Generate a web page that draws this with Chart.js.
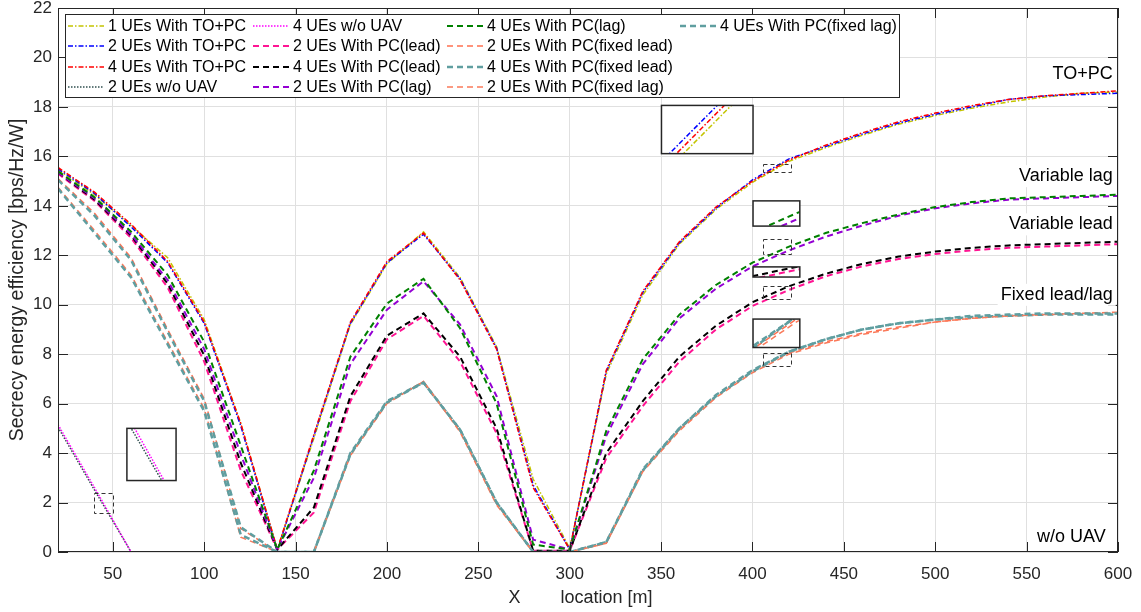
<!DOCTYPE html>
<html>
<head>
<meta charset="utf-8">
<script src="https://cdn.jsdelivr.net/npm/chart.js@4.4.0/dist/chart.umd.min.js"></script>
<style>
html, body { margin: 0; padding: 0; background: #fff; }
</style>
</head>
<body>
<canvas id="chart" width="1141" height="612"></canvas>
<script>
// x locations [m]
const xs = [20, 40, 60, 80, 100, 120, 140, 160, 180, 200, 220, 240, 260, 280, 300,
            320, 340, 360, 380, 400, 420, 440, 460, 480, 500, 520, 540, 560, 580, 600];

const toPc1 = [15.45, 14.45, 13.2, 11.9, 9.4, 5.2, 0.1, 4.6, 9.2, 11.65, 12.95, 11.1, 8.3, 2.95, 0.15,
               7.2, 10.4, 12.45, 13.85, 14.95, 15.8, 16.35, 16.85, 17.3, 17.65, 17.95, 18.2, 18.4, 18.55, 18.6];
const toPc2 = [15.5, 14.5, 13.15, 11.7, 9.25, 5.1, 0.05, 4.7, 9.25, 11.7, 12.85, 11.05, 8.25, 2.7, 0.1,
               7.3, 10.5, 12.5, 13.9, 15.05, 15.9, 16.4, 16.9, 17.35, 17.7, 18.0, 18.3, 18.45, 18.5, 18.55];
const toPc4 = [15.55, 14.55, 13.25, 11.75, 9.3, 5.2, 0.1, 4.75, 9.3, 11.75, 12.9, 11.0, 8.2, 2.6, 0.1,
               7.35, 10.55, 12.55, 13.95, 15.0, 15.85, 16.45, 16.95, 17.4, 17.75, 18.05, 18.3, 18.45, 18.55, 18.65];
const noUav2 = [5.05, 2.5, 0, 0, 0, 0, 0, 0, 0, 0, 0, 0, 0, 0, 0,
                0, 0, 0, 0, 0, 0, 0, 0, 0, 0, 0, 0, 0, 0, 0];
const noUav4 = [5.15, 2.6, 0, 0, 0, 0, 0, 0, 0, 0, 0, 0, 0, 0, 0,
                0, 0, 0, 0, 0, 0, 0, 0, 0, 0, 0, 0, 0, 0, 0];
const lead2 = [15.3, 14.2, 12.7, 10.7, 7.7, 3.3, 0.1, 1.6, 6.1, 8.6, 9.55, 7.7, 4.8, 0.05, 0.05,
               3.8, 5.9, 7.7, 9.0, 9.95, 10.6, 11.15, 11.55, 11.85, 12.05, 12.2, 12.3, 12.35, 12.4, 12.45];
const lead4 = [15.35, 14.25, 12.8, 10.85, 7.95, 3.6, 0.1, 1.8, 6.3, 8.75, 9.65, 7.9, 5.0, 0.05, 0.05,
               4.0, 6.1, 7.9, 9.15, 10.1, 10.75, 11.25, 11.65, 11.95, 12.15, 12.3, 12.4, 12.45, 12.5, 12.55];
const lag2 = [15.35, 14.3, 12.85, 11.0, 8.2, 3.95, 0.1, 3.0, 7.6, 9.8, 10.95, 9.2, 6.3, 0.5, 0.1,
              4.7, 7.6, 9.45, 10.65, 11.55, 12.2, 12.75, 13.2, 13.6, 13.9, 14.1, 14.25, 14.3, 14.35, 14.4];
const lag4 = [15.4, 14.35, 12.95, 11.2, 8.5, 4.3, 0.1, 3.3, 7.9, 10.05, 11.05, 9.05, 6.0, 0.3, 0.1,
              4.9, 7.8, 9.6, 10.8, 11.7, 12.35, 12.9, 13.3, 13.65, 13.95, 14.15, 14.3, 14.35, 14.4, 14.45];
const fixLead2 = [15.1, 13.7, 11.9, 9.0, 6.2, 0.95, 0, 0, 3.95, 6.05, 6.9, 4.9, 1.95, 0, 0,
                  0.35, 3.3, 4.95, 6.3, 7.3, 8.05, 8.5, 8.85, 9.1, 9.3, 9.45, 9.55, 9.6, 9.65, 9.65];
const fixLead4 = [15.05, 13.6, 11.8, 8.9, 6.1, 1.0, 0, 0, 4.0, 6.1, 6.85, 4.95, 2.0, 0, 0,
                  0.4, 3.35, 5.0, 6.35, 7.35, 8.1, 8.6, 9.0, 9.25, 9.4, 9.5, 9.55, 9.6, 9.6, 9.6];
const fixLag2 = [14.75, 13.0, 11.2, 8.5, 5.8, 0.6, 0, 0, 3.9, 6.0, 6.9, 4.85, 1.9, 0, 0,
                 0.35, 3.25, 4.9, 6.25, 7.25, 8.0, 8.45, 8.8, 9.05, 9.3, 9.45, 9.55, 9.6, 9.65, 9.7];
const fixLag4 = [14.7, 12.9, 11.1, 8.4, 5.7, 0.7, 0, 0, 3.95, 6.05, 6.85, 4.95, 2.0, 0, 0,
                 0.4, 3.3, 5.0, 6.3, 7.3, 8.1, 8.6, 9.0, 9.25, 9.4, 9.55, 9.6, 9.65, 9.65, 9.65];

const seriesLabels = ['1 UEs With TO+PC', '2 UEs With TO+PC', '4 UEs With TO+PC', '2 UEs w/o UAV',
  '4 UEs w/o UAV', '2 UEs With PC(lead)', '4 UEs With PC(lead)', '2 UEs With PC(lag)',
  '4 UEs With PC(lag)', '2 UEs With PC(fixed lead)', '4 UEs With PC(fixed lead)',
  '2 UEs With PC(fixed lag)', '4 UEs With PC(fixed lag)'];
const seriesValues = [toPc1, toPc2, toPc4, noUav2, noUav4, lead2, lead4, lag2, lag4,
  fixLead2, fixLead4, fixLag2, fixLag4];

const xTicks = [50, 100, 150, 200, 250, 300, 350, 400, 450, 500, 550, 600];
const curveNotes = ['TO+PC', 'Variable lag', 'Variable lead', 'Fixed lead/lag', 'w/o UAV'];

const FONT = "'Liberation Sans', Arial, Helvetica, sans-serif";
const DASHDOT = [5, 2, 1.5, 2];
const DASH = [6, 4];
const DOT = [1.5, 1.5];

const styles = [
  ['#c4c400', DASHDOT, 1.5], ['#0000ff', DASHDOT, 1.5], ['#ff0000', DASHDOT, 1.5],
  ['#2f4f4f', DOT, 1.5], ['#ff00ff', DOT, 1.5],
  ['#ff1493', DASH, 2], ['#000000', DASH, 2], ['#9400d3', DASH, 2], ['#008000', DASH, 2],
  ['#ff7050', DASH, 1.5], ['#5f9ea0', DASH, 2.5], ['#fa7a5a', DASH, 1.5], ['#5f9ea0', DASH, 2.5]
];

const datasets = seriesValues.map((ys, i) => ({
  label: seriesLabels[i],
  data: xs.map((x, k) => ({x: x, y: ys[k]})),
  borderColor: styles[i][0],
  borderDash: styles[i][1],
  borderWidth: styles[i][2],
  pointRadius: 0,
  fill: false,
  tension: 0,
  order: -i
}));

// zoom insets: dataset indexes, source box and target box in data units
const insets = [
  {sets: [3, 4], src: [39.9, 50.3, 1.59, 2.4], dst: [57.7, 84.6, 2.89, 5.0]},
  {sets: [0, 1, 2], src: [405.5, 420.8, 15.34, 15.68], dst: [350.2, 400.3, 16.11, 18.06]},
  {sets: [7, 8], src: [405.5, 420.8, 12.03, 12.64], dst: [400.3, 425.9, 13.18, 14.2]},
  {sets: [5, 6], src: [405.5, 420.8, 10.23, 10.74], dst: [400.3, 425.9, 11.12, 11.53]},
  {sets: [9, 10, 11, 12], src: [405.5, 420.8, 7.53, 8.04], dst: [400.3, 425.9, 8.27, 9.42]}
];

function box(sx, sy, b) {
  const l = sx.getPixelForValue(b[0]), r = sx.getPixelForValue(b[1]);
  const bt = sy.getPixelForValue(b[2]), t = sy.getPixelForValue(b[3]);
  return {l: l, t: t, w: r - l, h: bt - t};
}

const frame = {
  id: 'frame',
  afterDatasetsDraw(chart) {
    const ctx = chart.ctx, a = chart.chartArea;
    const sx = chart.scales.x, sy = chart.scales.y;
    ctx.save();

    // insets
    insets.forEach(ins => {
      const s = box(sx, sy, ins.src), d = box(sx, sy, ins.dst);
      ctx.setLineDash([4, 3]);
      ctx.strokeStyle = '#333';
      ctx.lineWidth = 1;
      ctx.strokeRect(Math.round(s.l) + 0.5, Math.round(s.t) + 0.5, Math.round(s.w), Math.round(s.h));
      ctx.setLineDash([]);
      ctx.fillStyle = '#fff';
      ctx.fillRect(d.l, d.t, d.w, d.h);
      ctx.save();
      ctx.beginPath();
      ctx.rect(d.l, d.t, d.w, d.h);
      ctx.clip();
      ins.sets.forEach(k => {
        const ds = chart.data.datasets[k];
        ctx.strokeStyle = ds.borderColor;
        ctx.lineWidth = ds.borderWidth;
        ctx.setLineDash(ds.borderDash);
        ctx.beginPath();
        ds.data.forEach((p, j) => {
          const px = d.l + (sx.getPixelForValue(p.x) - s.l) * d.w / s.w;
          const py = d.t + (sy.getPixelForValue(p.y) - s.t) * d.h / s.h;
          if (j === 0) ctx.moveTo(px, py); else ctx.lineTo(px, py);
        });
        ctx.stroke();
      });
      ctx.restore();
      ctx.setLineDash([]);
      ctx.strokeStyle = '#262626';
      ctx.lineWidth = 1.5;
      ctx.strokeRect(d.l, d.t, d.w, d.h);
    });

    // axes box with inward ticks
    ctx.setLineDash([]);
    ctx.strokeStyle = '#262626';
    ctx.lineWidth = 1;
    ctx.strokeRect(a.left + 0.5, a.top + 0.5, a.right - a.left - 1, a.bottom - a.top - 1);
    ctx.beginPath();
    sx.ticks.forEach(t => {
      const px = Math.round(sx.getPixelForValue(t.value)) + 0.5;
      ctx.moveTo(px, a.bottom); ctx.lineTo(px, a.bottom - 10);
      ctx.moveTo(px, a.top); ctx.lineTo(px, a.top + 10);
    });
    sy.ticks.forEach(t => {
      const py = Math.round(sy.getPixelForValue(t.value)) + 0.5;
      ctx.moveTo(a.left, py); ctx.lineTo(a.left + 10, py);
      ctx.moveTo(a.right, py); ctx.lineTo(a.right - 10, py);
    });
    ctx.stroke();

    // curve group notes
    ctx.font = '18px ' + FONT;
    ctx.textAlign = 'right';
    ctx.textBaseline = 'middle';
    const notePos = [[597.1, 19.33], [597.1, 15.2], [597.1, 13.25], [597.1, 10.4], [593.3, 0.6]];
    curveNotes.forEach((txt, i) => {
      const px = sx.getPixelForValue(notePos[i][0]), py = sy.getPixelForValue(notePos[i][1]);
      const w = ctx.measureText(txt).width;
      ctx.fillStyle = '#fff';
      if (i < 4) ctx.fillRect(px - w - 3, py - 11, w + 6, 22);
      ctx.fillStyle = '#000';
      ctx.fillText(txt, px, py);
    });

    // legend, filled column by column
    const colX = [68, 253, 447, 680];
    const rowY = [26, 46, 67, 87];
    ctx.fillStyle = '#fff';
    ctx.fillRect(65, 14, 834, 83);
    ctx.strokeStyle = '#262626';
    ctx.lineWidth = 1;
    ctx.strokeRect(65.5, 14.5, 834, 83);
    ctx.font = '16px ' + FONT;
    ctx.textAlign = 'left';
    chart.data.datasets.forEach((ds, i) => {
      const c = Math.floor(i / 4), r = i % 4;
      const lx = colX[c], ly = rowY[r];
      ctx.strokeStyle = ds.borderColor;
      ctx.lineWidth = ds.borderWidth;
      ctx.setLineDash(ds.borderDash);
      ctx.beginPath();
      ctx.moveTo(lx, ly); ctx.lineTo(lx + 36, ly);
      ctx.stroke();
      ctx.setLineDash([]);
      ctx.fillStyle = '#000';
      ctx.fillText(ds.label, lx + 40, ly + 1);
    });
    ctx.restore();
  }
};

new Chart(document.getElementById('chart'), {
  type: 'line',
  data: {datasets: datasets},
  plugins: [frame],
  options: {
    responsive: false,
    animation: false,
    devicePixelRatio: 1,
    layout: {padding: {left: 0, right: 23, top: 8, bottom: 0}},
    plugins: {legend: {display: false}, tooltip: {enabled: false}},
    scales: {
      x: {
        type: 'linear', min: 20, max: 600,
        afterBuildTicks: s => { s.ticks = xTicks.map(v => ({value: v})); },
        afterFit: s => { s.height = 60; s.paddingLeft = 0; s.paddingRight = 0; },
        ticks: {font: {family: FONT, size: 17}, color: '#262626', padding: 12, maxRotation: 0},
        grid: {color: '#e0e0e0', drawTicks: false},
        border: {display: false},
        title: {display: true, text: 'X        location [m]   ', color: '#262626',
                font: {family: FONT, size: 18}, padding: {top: 0, bottom: 3}}
      },
      y: {
        min: 0, max: 22,
        afterFit: s => { s.width = 58; s.paddingTop = 0; s.paddingBottom = 0; },
        ticks: {stepSize: 2, font: {family: FONT, size: 17}, color: '#262626', padding: 6},
        grid: {color: '#e0e0e0', drawTicks: false},
        border: {display: false},
        title: {display: true, text: 'Secrecy energy efficiency [bps/Hz/W]', color: '#262626',
                font: {family: FONT, size: 19.5}, padding: {top: 6, bottom: 0}}
      }
    }
  }
});
</script>
</body>
</html>
